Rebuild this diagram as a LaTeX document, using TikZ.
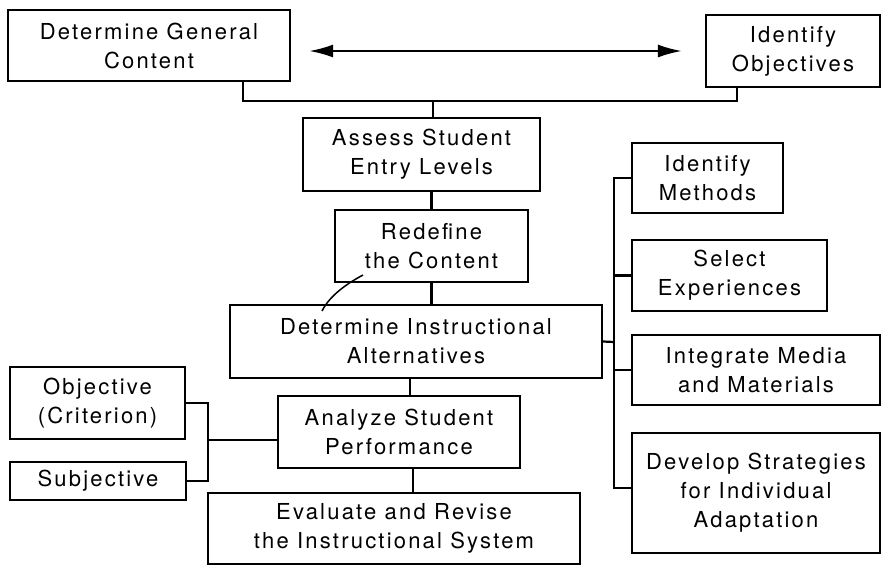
\documentclass[tikz,border=0pt]{standalone}
\usepackage{fontspec}
\setmainfont[LetterSpace=10]{TeX Gyre Heros}
\usetikzlibrary{arrows.meta}
\usetikzlibrary{positioning}

\begin{document}
\begin{tikzpicture}[x=1pt,y=-1pt,line width=2.2pt]
      \tikzstyle{every node}=[draw,rectangle,align=center,inner sep=0pt,font=\fontsize{22}{29}\selectfont]
      \tikzstyle{blk}=[minimum width=#1]
      \useasboundingbox (0,0) rectangle (883,566);
      \node[blk=282pt,minimum height=71pt] (gen)     at (149,45.5)  {Determine General\\Content};
      \node[blk=174pt,minimum height=72pt] (obj)     at (793,51)    {Identify\\Objectives};
      \node[blk=237pt,minimum height=73pt] (assess)  at (421.5,154.5) {Assess Student\\Entry Levels};
      \node[blk=193pt,minimum height=72pt] (redef)   at (431.5,246) {Redefine\\the Content};
      \node[blk=372pt,minimum height=73pt] (alt)     at (416,341.5) {Determine Instructional\\Alternatives};
      \node[blk=242pt,minimum height=72pt] (analyze) at (399,432)   {Analyze Student\\Performance};
      \node[blk=372pt,minimum height=71pt] (evalrev) at (394,528.5) {Evaluate and Revise\\the Instructional System};
      \node[blk=175pt,minimum height=72pt] (objcrit) at (97.5,403)  {Objective\\(Criterion)};
      \node[blk=176pt,minimum height=38pt] (subj)    at (98,481)    {Subjective};
      \node[blk=151pt,minimum height=70pt] (methods) at (707.5,178) {Identify\\Methods};
      \node[blk=195pt,minimum height=71pt] (select)  at (729.5,275.5) {Select\\Experiences};
      \node[blk=248pt,minimum height=70pt] (media)   at (756,370)   {Integrate Media\\and Materials};
      \node[blk=248pt,minimum height=120pt] (strat)  at (756,493)   {Develop Strategies\\for Individual\\Adaptation};

      \coordinate (join) at (433,101);
      \coordinate (lbr) at (208,440);
      \coordinate (rbr) at (614,342);

      \draw[{Latex[length=24pt,width=13pt]}-{Latex[length=24pt,width=13pt]},shorten <=18pt,shorten >=23pt] ([yshift=-5.5pt]gen.east) -- ([yshift=-5.5pt]gen.east -| obj.west);
      \draw ([xshift=94pt]gen.south) |- (join) -| ([xshift=-56pt]obj.south);
      \draw (join) -- (join |- assess.north);
      \draw (redef.north) -- (redef.north |- assess.south);
      \draw (redef.south) -- (redef.south |- alt.north);
      \draw ([xshift=11pt]analyze.north) -- ([xshift=11pt]analyze.north |- alt.south);
      \draw ([xshift=19pt]evalrev.north) -- ([xshift=19pt]evalrev.north |- analyze.south);
      \draw[line width=1.5pt] (363,275) .. controls (348,283) and (330,295) .. (322,311);

      \draw (objcrit.east) -| (lbr) |- (subj.east);
      \draw (lbr) -- (lbr -| analyze.west);

      \draw (alt.east) -- (rbr);
      \draw (methods.west) -| (rbr) |- ([yshift=5pt]strat.west);
      \foreach \n in {select,media}
        \draw (\n.west) -- (\n.west -| rbr);
    \end{tikzpicture}
\end{document}
